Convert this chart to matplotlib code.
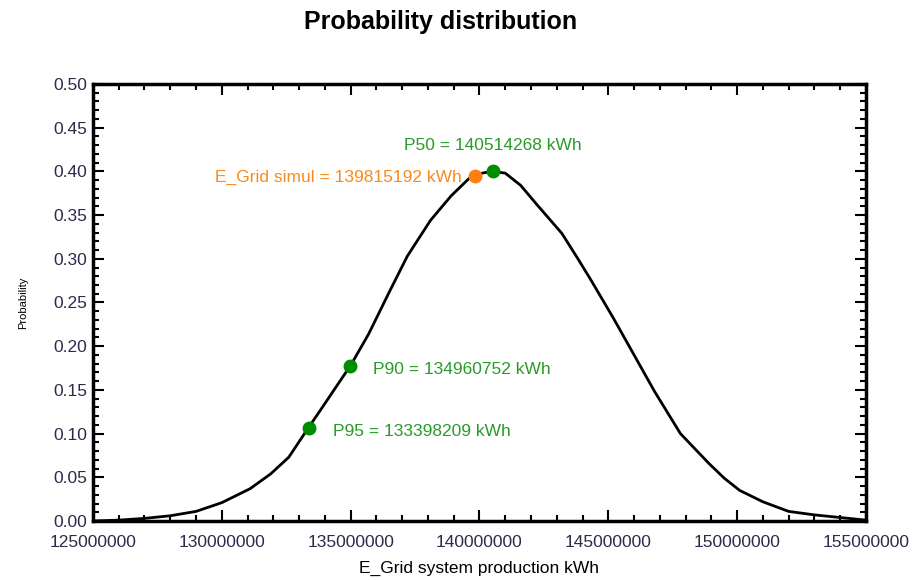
import matplotlib
matplotlib.use("Agg")
import matplotlib.pyplot as plt
from matplotlib.ticker import MultipleLocator, FormatStrFormatter

plt.rcParams['font.family'] = ['Liberation Sans', 'DejaVu Sans']

# distribution curve (energy in kWh, probability)
energy = [125.0e6, 126.0e6, 127.0e6, 128.0e6, 129.0e6, 130.0e6, 131.1e6, 131.9e6,
          132.6e6, 133.3e6, 133.9e6, 134.7e6, 135.0e6, 135.7e6, 136.5e6, 137.2e6,
          138.1e6, 138.9e6, 139.6e6, 140.1e6, 140.5e6, 141.0e6, 141.6e6, 142.2e6,
          143.2e6, 143.8e6, 144.3e6, 145.2e6, 146.0e6, 146.8e6, 147.8e6, 148.9e6,
          149.5e6, 150.1e6, 151.0e6, 152.0e6, 153.0e6, 154.0e6, 155.0e6]
prob = [0.000, 0.001, 0.003, 0.006, 0.011, 0.021, 0.037, 0.054,
        0.073, 0.104, 0.130, 0.165, 0.178, 0.214, 0.262, 0.303,
        0.344, 0.372, 0.392, 0.398, 0.400, 0.398, 0.384, 0.363,
        0.329, 0.301, 0.277, 0.232, 0.190, 0.148, 0.100, 0.066,
        0.049, 0.035, 0.022, 0.011, 0.007, 0.004, 0.001]

# marked points
p_names = ['P50', 'P90', 'P95']
p_vals = [140514268, 134960752, 133398209]
p_prob = [0.400, 0.177, 0.106]
simul_val = 139815192
simul_prob = 0.395

fig = plt.figure(figsize=(9.15, 5.8), dpi=100)
ax = fig.add_axes([0.1016, 0.1017, 0.8448, 0.7535])

ax.plot(energy, prob, color='black', lw=2.0, zorder=2)
ax.plot(p_vals, p_prob, 'o', color='#008c00', ms=9, zorder=3)
ax.plot([simul_val], [simul_prob], 'o', color='#ff7f0e', ms=9, zorder=3)

txt_green = '#2a9a2a'
fs = 12.5
ax.annotate('%s = %d kWh' % (p_names[0], p_vals[0]), (p_vals[0], p_prob[0]),
            xytext=(0, 13), textcoords='offset points', ha='center', va='bottom',
            color=txt_green, fontsize=fs)
for name, v, p in zip(p_names[1:], p_vals[1:], p_prob[1:]):
    ax.annotate('%s = %d kWh' % (name, v), (v, p), xytext=(17, -2),
                textcoords='offset points', ha='left', va='center',
                color=txt_green, fontsize=fs)
ax.annotate('E_Grid simul = %d kWh' % simul_val, (simul_val, simul_prob),
            xytext=(-9, -1), textcoords='offset points', ha='right', va='center',
            color='#f98a1c', fontsize=fs)

ax.set_xlim(125e6, 155e6)
ax.set_ylim(0, 0.5)
ax.xaxis.set_major_locator(MultipleLocator(5e6))
ax.xaxis.set_minor_locator(MultipleLocator(1e6))
ax.yaxis.set_major_locator(MultipleLocator(0.05))
ax.yaxis.set_minor_locator(MultipleLocator(0.01))
ax.xaxis.set_major_formatter(FormatStrFormatter('%d'))
ax.yaxis.set_major_formatter(FormatStrFormatter('%.2f'))

ax.tick_params(which='both', direction='in', top=True, right=True,
               labelsize=12.5, labelcolor='#2b2b4b', width=1.5)
ax.tick_params(which='major', length=8)
ax.tick_params(which='minor', length=4)
ax.tick_params(axis='x', which='major', pad=10)
ax.tick_params(axis='y', which='major', pad=4)
for s in ax.spines.values():
    s.set_linewidth(2.5)

ax.set_xlabel('E_Grid system production kWh', fontsize=12.5, labelpad=8)
ax.set_ylabel('Probability', fontsize=8, labelpad=18)
fig.text(0.481, 0.962, 'Probability distribution', fontsize=18,
         fontweight='bold', ha='center', va='center')

fig.savefig('out.png', dpi=100)
